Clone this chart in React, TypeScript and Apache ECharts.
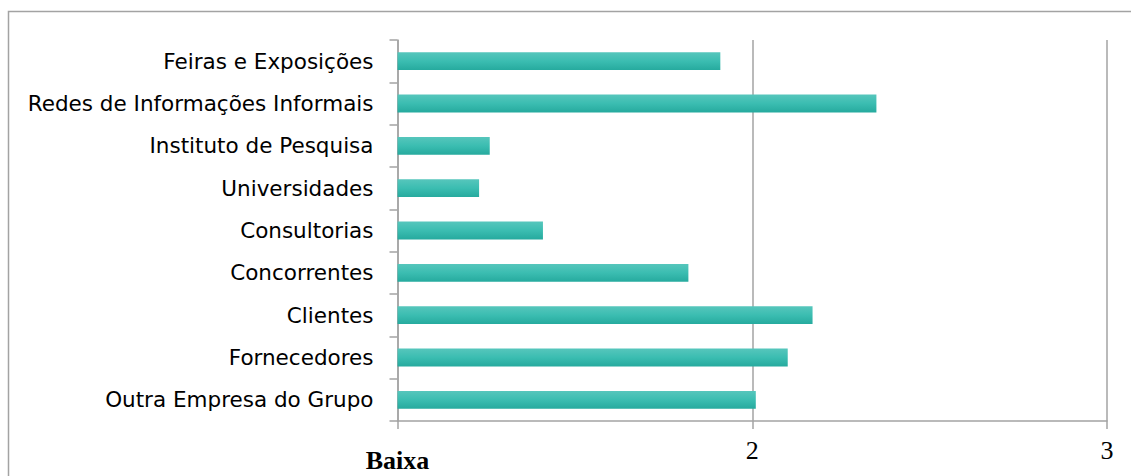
import React, { useEffect, useRef } from "react";
import * as echarts from "echarts";

const categories = [
  "Feiras e Exposições",
  "Redes de Informações Informais",
  "Instituto de Pesquisa",
  "Universidades",
  "Consultorias",
  "Concorrentes",
  "Clientes",
  "Fornecedores",
  "Outra Empresa do Grupo",
];
const values = [1.91, 2.35, 1.26, 1.23, 1.41, 1.82, 2.17, 2.1, 2.01];
const xMin = 1;
const xMax = 3;
const xInterval = 1;
const lowLabel = "Baixa";

export default function App() {
  const ref = useRef<HTMLDivElement>(null);
  useEffect(() => {
    if (!ref.current) return;
    const chart = echarts.init(ref.current, null, { renderer: "svg" });
    const gray = "#a3a3a3";
    chart.setOption({
      animation: false,
      backgroundColor: "#ffffff",
      graphic: [
        {
          type: "rect",
          shape: { x: 8.5, y: 11.5, width: 1300, height: 700 },
          style: { fill: "none", stroke: gray, lineWidth: 1.5 },
          silent: true,
        },
      ],
      grid: {
        left: 397.5,
        right: 24,
        top: 40,
        bottom: 55,
        containLabel: false,
        outerBoundsMode: "none",
      },
      xAxis: {
        type: "value",
        min: xMin,
        max: xMax,
        interval: xInterval,
        axisLine: { show: true, lineStyle: { color: gray, width: 1.5 } },
        axisTick: { show: true, length: 8, lineStyle: { color: gray, width: 1.5 } },
        splitLine: { show: true, lineStyle: { color: gray, width: 1.5 } },
        axisLabel: {
          margin: 16,
          color: "#000",
          fontFamily: "Liberation Serif",
          fontSize: 26,
          formatter: (v: number) => (v === xMin ? "{b|" + lowLabel + "}" : String(v)),
          rich: {
            b: {
              fontFamily: "Liberation Serif",
              fontSize: 26,
              lineHeight: 18,
              fontWeight: "bold",
              color: "#000",
              padding: [28, 0, 0, 0],
            },
          },
        },
      },
      yAxis: {
        type: "category",
        data: categories,
        inverse: true,
        axisLine: { show: true, lineStyle: { color: gray, width: 1.5 } },
        axisTick: { show: true, length: 8, lineStyle: { color: gray, width: 1.5 } },
        splitLine: { show: false },
        axisLabel: {
          margin: 24,
          color: "#000",
          fontFamily: "DejaVu Sans",
          fontSize: 21.5,
        },
      },
      series: [
        {
          type: "bar",
          data: values,
          barWidth: "42%",
          itemStyle: {
            color: new echarts.graphic.LinearGradient(0, 0, 0, 1, [
              { offset: 0, color: "#56c6bc" },
              { offset: 0.5, color: "#3bbdb1" },
              { offset: 1, color: "#26aa9e" },
            ]),
          },
        },
      ],
    });
    return () => chart.dispose();
  }, []);
  return (
    <div
      ref={ref}
      style={{ position: "absolute", left: 0, top: 0, width: 1131, height: 476 }}
    />
  );
}
